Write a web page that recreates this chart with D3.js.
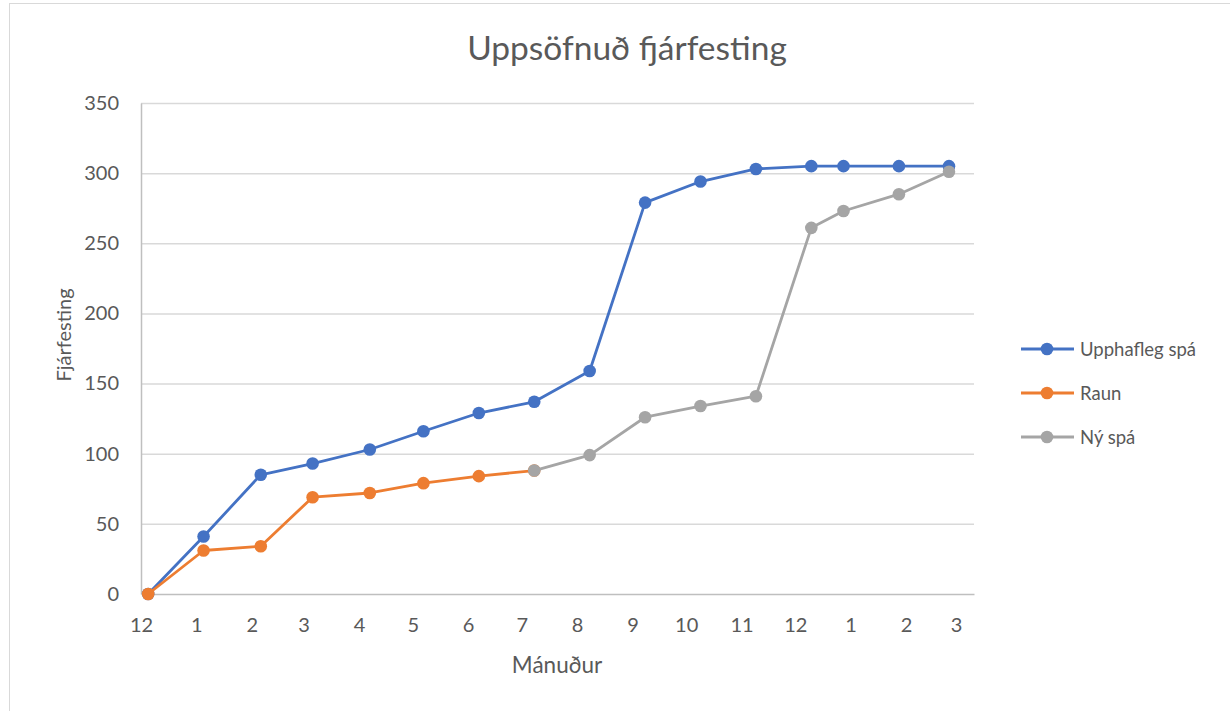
<!DOCTYPE html>
<html>
<head>
<meta charset="utf-8">
<script src="https://cdn.jsdelivr.net/npm/d3@7"></script>
<style>
  body { margin: 0; background: #fff; }
  svg { display: block; font-family: Lato, "Open Sans", sans-serif; }
</style>
</head>
<body>
<svg id="chart" width="1230" height="711"></svg>
<script>
// Data
const dates = ["2019-12-05", "2020-01-05", "2020-02-06", "2020-03-06", "2020-04-07", "2020-05-07",
    "2020-06-07", "2020-07-08", "2020-08-08", "2020-09-08", "2020-10-09", "2020-11-09",
    "2020-12-10", "2020-12-28", "2021-01-28", "2021-02-25"];
const upphaflegSpa = [0, 41, 85, 93, 103, 116, 129, 137, 159, 279, 294, 303, 305, 305, 305, 305];
const raun = [0, 31, 34, 69, 72, 79, 84, 88, null, null, null, null, null, null, null, null];
const nySpa = [null, null, null, null, null, null, null, 88, 99, 126, 134, 141, 261, 273, 285, 301];
const seriesNames = ["Upphafleg spá", "Raun", "Ný spá"];
const seriesColors = ["#4472C4", "#ED7D31", "#A5A5A5"];
const yTicks = [0, 50, 100, 150, 200, 250, 300, 350];
const xTickDates = ["2019-12-01", "2020-01-01", "2020-02-01", "2020-03-01", "2020-04-01", "2020-05-01",
    "2020-06-01", "2020-07-01", "2020-08-01", "2020-09-01", "2020-10-01", "2020-11-01",
    "2020-12-01", "2021-01-01", "2021-02-01", "2021-03-01"];
const xDomain = ["2019-12-01", "2021-03-11"];

const parse = d3.timeParse("%Y-%m-%d");
const svg = d3.select("#chart");

// chart frame
svg.append("rect")
    .attr("x", 9.5).attr("y", 3.5)
    .attr("width", 1240).attr("height", 740)
    .attr("fill", "none")
    .attr("stroke", "#d9d9d9");

// Plot area
const plotLeft = 141, plotRight = 974, plotTop = 103, plotBottom = 594;

const x = d3.scaleTime()
    .domain(xDomain.map(parse))
    .range([plotLeft, plotRight]);

const y = d3.scaleLinear()
    .domain([0, 350])
    .range([plotBottom, plotTop]);

// Horizontal grid lines
svg.append("g")
    .selectAll("line")
    .data(yTicks.slice(1))
    .join("line")
    .attr("x1", plotLeft).attr("x2", plotRight)
    .attr("y1", d => y(d) + 0.5).attr("y2", d => y(d) + 0.5)
    .attr("stroke", "#d9d9d9")
    .attr("stroke-width", 1.5);

// Y axis
const yAxis = svg.append("g")
    .attr("transform", `translate(${plotLeft},0)`)
    .call(d3.axisLeft(y).tickValues(yTicks).tickSize(0).tickPadding(22));
yAxis.select(".domain").attr("stroke", "#bfbfbf").attr("stroke-width", 1.5);
yAxis.selectAll("text")
    .attr("fill", "#595959")
    .attr("font-size", 20)
    .attr("font-family", "Lato, sans-serif");

// X axis
const xAxis = svg.append("g")
    .attr("transform", `translate(0,${plotBottom})`)
    .call(d3.axisBottom(x)
        .tickValues(xTickDates.map(parse))
        .tickFormat(d3.timeFormat("%-m"))
        .tickSize(0)
        .tickPadding(24));
xAxis.select(".domain").attr("stroke", "#bfbfbf").attr("stroke-width", 1.5);
xAxis.selectAll("text")
    .attr("fill", "#595959")
    .attr("font-size", 20)
    .attr("font-family", "Lato, sans-serif");

// Title
svg.append("text")
    .attr("x", 627)
    .attr("y", 60)
    .attr("text-anchor", "middle")
    .attr("fill", "#595959")
    .attr("font-size", 33.5)
    .text("Uppsöfnuð fjárfesting");

// Axis titles
svg.append("text")
    .attr("transform", "rotate(-90)")
    .attr("x", -335)
    .attr("y", 71)
    .attr("text-anchor", "middle")
    .attr("fill", "#595959")
    .attr("font-size", 20)
    .text("Fjárfesting");

svg.append("text")
    .attr("x", 557)
    .attr("y", 673)
    .attr("text-anchor", "middle")
    .attr("fill", "#595959")
    .attr("font-size", 22.5)
    .text("Mánuður");

// Series
const allSeries = [upphaflegSpa, raun, nySpa];
const line = d3.line()
    .defined(d => d.v !== null)
    .x(d => x(d.date))
    .y(d => y(d.v));

allSeries.forEach((values, i) => {
    const pts = values.map((v, j) => ({ date: parse(dates[j]), v: v }));
    const g = svg.append("g");
    g.append("path")
        .attr("d", line(pts))
        .attr("fill", "none")
        .attr("stroke", seriesColors[i])
        .attr("stroke-width", 2.8)
        .attr("stroke-linejoin", "round");
    g.selectAll("circle")
        .data(pts.filter(d => d.v !== null))
        .join("circle")
        .attr("cx", d => x(d.date))
        .attr("cy", d => y(d.v))
        .attr("r", 6.3)
        .attr("fill", seriesColors[i]);
});

// Legend
const legend = svg.append("g");
seriesNames.forEach((name, i) => {
    const ly = 349 + i * 44;
    legend.append("line")
        .attr("x1", 1021).attr("x2", 1074)
        .attr("y1", ly).attr("y2", ly)
        .attr("stroke", seriesColors[i])
        .attr("stroke-width", 2.8);
    legend.append("circle")
        .attr("cx", 1047).attr("cy", ly)
        .attr("r", 6.3)
        .attr("fill", seriesColors[i]);
    legend.append("text")
        .attr("x", 1080).attr("y", ly + 6.5)
        .attr("fill", "#595959")
        .attr("font-size", 18.5)
        .text(name);
});
</script>
</body>
</html>
